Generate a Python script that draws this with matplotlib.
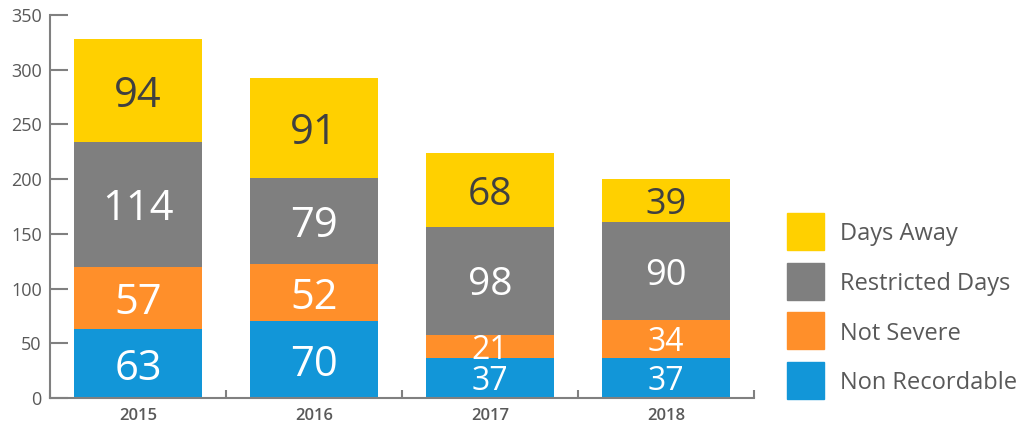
import matplotlib.pyplot as plt
import numpy as np
from matplotlib.patches import Rectangle

plt.rcParams['font.family'] = ['Open Sans', 'DejaVu Sans']

# data
years = ['2015', '2016', '2017', '2018']
non_recordable = [63, 70, 37, 37]
not_severe = [57, 52, 21, 34]
restricted = [114, 79, 98, 90]
days_away = [94, 91, 68, 39]

series = [non_recordable, not_severe, restricted, days_away]
names = ['Non Recordable', 'Not Severe', 'Restricted Days', 'Days Away']
colors = ['#1296d8', '#ff8f2a', '#7f7f7f', '#ffd000']
txtcol = ['white', 'white', 'white', '#404040']
# label font size per year
big = [30, 30, 28, 26]
small = [30, 30, 23, 23]

fig = plt.figure(figsize=(10.17, 4.26), dpi=100)
ax = fig.add_axes([50/1017, 28/426, 704/1017, 383/426])

x = np.arange(len(years))
bottom = np.zeros(len(years))
for i, s in enumerate(series):
    s = np.array(s)
    ax.bar(x, s, 0.727, bottom=bottom, color=colors[i], label=names[i], zorder=2)
    for j in range(len(years)):
        fs = small[j] if s[j] < 38 else big[j]
        ax.text(x[j], bottom[j] + s[j]/2, str(s[j]), ha='center', va='center_baseline',
                color=txtcol[i], fontsize=fs, fontweight='medium', zorder=3)
    bottom += s

ax.set_xlim(-0.5, 3.5)
ax.set_ylim(0, 350)
ax.set_yticks(range(0, 351, 50))
ax.set_xticks(x)
ax.set_xticklabels(years, fontweight='semibold')
ax.set_xticks(np.arange(-0.5, 3.6, 1), minor=True)

for sp in ['top', 'right']:
    ax.spines[sp].set_visible(False)
for sp in ['left', 'bottom']:
    ax.spines[sp].set_color('#808080')
    ax.spines[sp].set_linewidth(1.5)

ax.tick_params(axis='y', direction='in', length=13, width=1.5, color='#808080',
               labelsize=13, labelcolor='#595959', pad=6)
ax.tick_params(axis='x', which='major', length=0, labelsize=12, labelcolor='#595959', pad=7)
ax.tick_params(axis='x', which='minor', direction='in', length=6, width=1.5, color='#808080')

# legend, drawn by hand in pixel units
lg = fig.add_axes([0, 0, 1, 1])
lg.set_xlim(0, 1017)
lg.set_ylim(426, 0)
lg.axis('off')
for k, i in enumerate(range(3, -1, -1)):
    y0 = 213 + k * 49.5
    lg.add_patch(Rectangle((787, y0), 37, 37, color=colors[i]))
    lg.text(840, y0 + 18.5, names[i], va='center_baseline', ha='left',
            fontsize=17, color='#595959')

fig.savefig('out.png', dpi=100)
